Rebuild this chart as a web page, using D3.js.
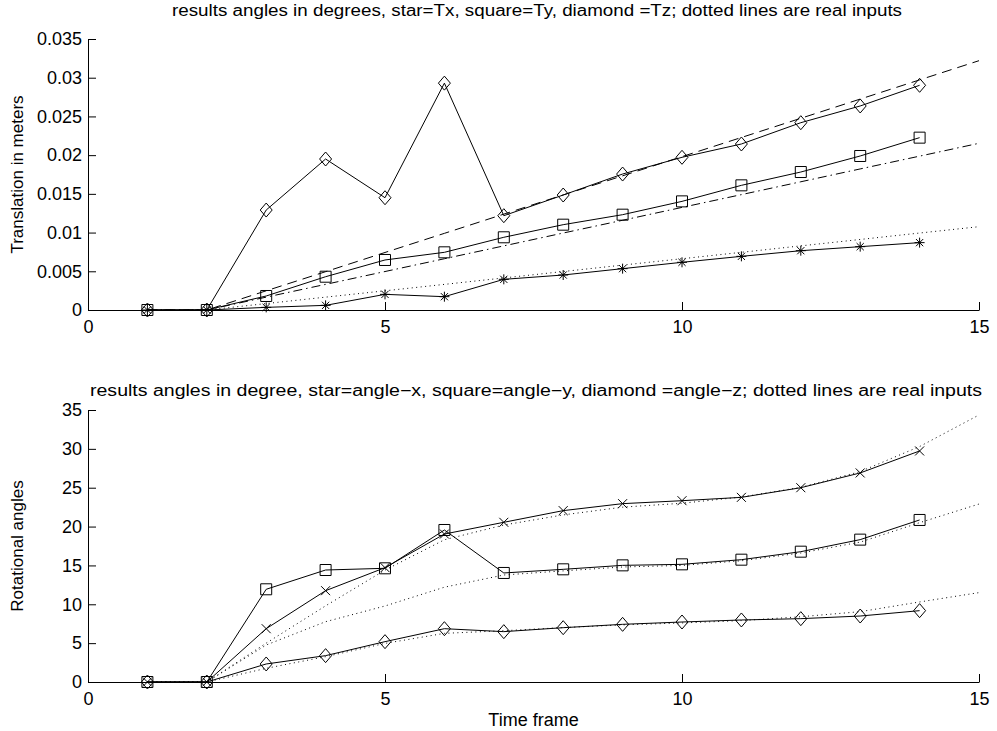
<!DOCTYPE HTML>
<html>
<head>
    <meta charset="utf-8">
    <title>Translation and rotation results</title>
    <style>
        body { margin: 0; background: #fff; }
        svg text { font-family: "Liberation Sans", Arial, sans-serif; fill: #000; }
        .axis path, .axis line { stroke: #000; }
    </style>
</head>
<body>
    <svg id="chart"></svg>

    <script src="https://cdn.jsdelivr.net/npm/d3@7"></script>
    <script type="text/javascript">
        // ---- data ----
        const frames = [1, 2, 3, 4, 5, 6, 7, 8, 9, 10, 11, 12, 13, 14];
        const realFrames = [1, 2, 3, 4, 5, 6, 7, 8, 9, 10, 11, 12, 13, 14, 15];

        // translation (meters), results
        const tx = [0, 0, 0.00034, 0.0006, 0.00202, 0.00172, 0.00396, 0.00452, 0.00534, 0.00616, 0.00693, 0.00766, 0.00818, 0.0087];
        const ty = [0, 0, 0.00181, 0.0043, 0.00646, 0.00745, 0.00939, 0.01102, 0.01231, 0.01403, 0.0161, 0.01782, 0.01989, 0.02226];
        const tz = [0, 0, 0.01291, 0.0195, 0.0145, 0.0293, 0.01218, 0.01485, 0.01756, 0.01972, 0.02144, 0.02419, 0.02635, 0.02902];
        // translation, real inputs
        const txReal = [0, 0, 0.00083, 0.00166, 0.00248, 0.00331, 0.00414, 0.00497, 0.0058, 0.00662, 0.00745, 0.00828, 0.00911, 0.00994, 0.01076];
        const tyReal = [0, 0, 0.00166, 0.00331, 0.00497, 0.00662, 0.00828, 0.00994, 0.01159, 0.01325, 0.0149, 0.01656, 0.01822, 0.01987, 0.02153];
        const tzReal = [0, 0, 0.00248, 0.00495, 0.00743, 0.0099, 0.01238, 0.01486, 0.01733, 0.01981, 0.02228, 0.02476, 0.02724, 0.02972, 0.0322];

        // rotation (degrees), results
        const angX = [0, 0, 6.86, 11.75, 14.71, 19.04, 20.55, 22.05, 22.95, 23.33, 23.76, 25.0, 26.9, 29.73];
        const angY = [0, 0, 11.93, 14.41, 14.63, 19.56, 14.03, 14.5, 15.01, 15.14, 15.74, 16.77, 18.32, 20.85];
        const angZ = [0, 0, 2.32, 3.39, 5.19, 6.86, 6.48, 6.99, 7.42, 7.72, 7.98, 8.15, 8.49, 9.18];
        // rotation, real inputs
        const angXReal = [0, 0, 5.0, 9.8, 14.4, 18.3, 20.2, 21.5, 22.5, 23.0, 23.8, 25.05, 27.07, 30.3, 34.36];
        const angYReal = [0, 0, 4.76, 7.76, 9.78, 12.2, 13.77, 14.3, 14.8, 15.0, 15.6, 16.6, 18.0, 20.5, 22.9];
        const angZReal = [0, 0, 1.76, 3.26, 4.97, 6.26, 6.6, 7.0, 7.35, 7.6, 7.9, 8.4, 9.05, 10.3, 11.5];

        const xTicks = [0, 5, 10, 15];
        const yTicksTop = [0, 0.005, 0.01, 0.015, 0.02, 0.025, 0.03, 0.035];
        const yTicksBottom = [0, 5, 10, 15, 20, 25, 30, 35];

        const titleTop = "results angles in degrees, star=Tx, square=Ty, diamond =Tz; dotted lines are real inputs";
        const titleBottom = "results angles in degree, star=angle\u2212x, square=angle\u2212y, diamond =angle\u2212z; dotted lines are real inputs";

        // ---- layout ----
        const W = 997, H = 731;
        const left = 88, right = 979;

        const svg = d3.select("#chart").attr("width", W).attr("height", H);

        const x = d3.scaleLinear().domain([0, 15]).range([left, right]);

        const markers = {
            star: "M-5,0H5M0,-5V5M-3.6,-3.6L3.6,3.6M-3.6,3.6L3.6,-3.6",
            cross: "M-4.5,-4.5L4.5,4.5M-4.5,4.5L4.5,-4.5",
            square: "M-5.5,-5.5h11v11h-11z",
            diamond: "M0,-7L6,0L0,7L-6,0Z"
        };

        function panel(cfg) {
            const y = d3.scaleLinear().domain(cfg.domain).range([cfg.bottom, cfg.top]);
            const g = svg.append("g");

            g.append("g")
                .attr("class", "axis")
                .attr("transform", "translate(0," + cfg.bottom + ")")
                .call(d3.axisBottom(x).tickValues(xTicks).tickFormat(d3.format("d"))
                    .tickSizeInner(-8).tickSizeOuter(0).tickPadding(10))
                .call(a => a.selectAll("text").attr("font-size", 18).attr("font-family", null));

            g.append("g")
                .attr("class", "axis")
                .attr("transform", "translate(" + left + ",0)")
                .call(d3.axisLeft(y).tickValues(cfg.ticks).tickFormat(cfg.fmt)
                    .tickSizeInner(-8).tickSizeOuter(0).tickPadding(6))
                .call(a => a.selectAll("text").attr("font-size", 18).attr("font-family", null));

            const line = d3.line().x((d, i) => x(d[0])).y(d => y(d[1]));

            // real inputs first, results on top
            cfg.real.forEach(r => {
                g.append("path")
                    .datum(realFrames.map((f, i) => [f, r.values[i]]))
                    .attr("d", line)
                    .attr("fill", "none")
                    .attr("stroke", "#000")
                    .attr("stroke-width", 1)
                    .attr("stroke-dasharray", r.dash);
            });

            cfg.series.forEach(s => {
                const pts = frames.map((f, i) => [f, s.values[i]]);
                g.append("path")
                    .datum(pts)
                    .attr("d", line)
                    .attr("fill", "none")
                    .attr("stroke", "#000")
                    .attr("stroke-width", 1);
                g.selectAll(null)
                    .data(pts)
                    .enter()
                    .append("path")
                    .attr("transform", d => "translate(" + x(d[0]) + "," + y(d[1]) + ")")
                    .attr("d", markers[s.marker])
                    .attr("fill", "none")
                    .attr("stroke", "#000")
                    .attr("stroke-width", 1);
            });

            g.append("text")
                .attr("x", cfg.titleX)
                .attr("y", cfg.titleY)
                .attr("font-size", 16)
                .attr("textLength", cfg.titleLen)
                .attr("lengthAdjust", "spacingAndGlyphs")
                .text(cfg.title);

            g.append("text")
                .attr("transform", "translate(23," + ((cfg.top + cfg.bottom) / 2) + ") rotate(-90)")
                .attr("text-anchor", "middle")
                .attr("font-size", 17)
                .text(cfg.ylabel);
        }

        panel({
            top: 39, bottom: 310,
            domain: [0, 0.035], ticks: yTicksTop, fmt: d3.format(""),
            title: titleTop, titleX: 172, titleY: 16, titleLen: 730,
            ylabel: "Translation in meters",
            series: [
                { values: tx, marker: "star" },
                { values: ty, marker: "square" },
                { values: tz, marker: "diamond" }
            ],
            real: [
                { values: txReal, dash: "1,3.5" },
                { values: tyReal, dash: "9,4,1.5,4" },
                { values: tzReal, dash: "10,6" }
            ]
        });

        panel({
            top: 410, bottom: 682,
            domain: [0, 35], ticks: yTicksBottom, fmt: d3.format("d"),
            title: titleBottom, titleX: 90, titleY: 396, titleLen: 892,
            ylabel: "Rotational angles",
            series: [
                { values: angX, marker: "cross" },
                { values: angY, marker: "square" },
                { values: angZ, marker: "diamond" }
            ],
            real: [
                { values: angXReal, dash: "1,3.5" },
                { values: angYReal, dash: "1,3.5" },
                { values: angZReal, dash: "1,3.5" }
            ]
        });

        svg.append("text")
            .attr("x", x(7.5))
            .attr("y", 726)
            .attr("text-anchor", "middle")
            .attr("font-size", 18)
            .text("Time frame");
    </script>
</body>
</html>
